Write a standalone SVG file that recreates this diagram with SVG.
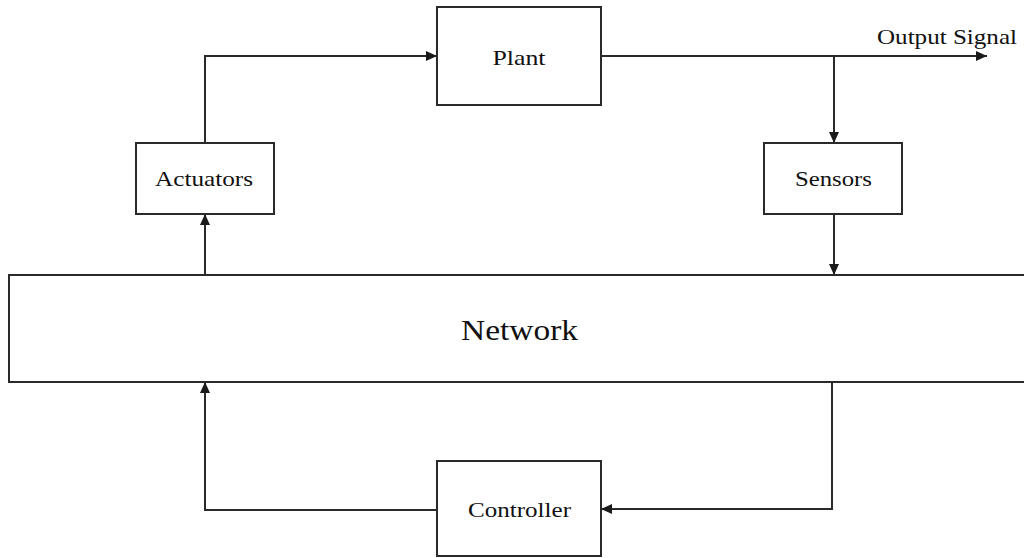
<svg xmlns="http://www.w3.org/2000/svg" width="1024" height="558" viewBox="0 0 1024 558">
  <defs>
    <marker id="arrow" markerUnits="userSpaceOnUse" markerWidth="12" markerHeight="10" refX="11" refY="5" orient="auto">
      <path d="M0,0 L11,5 L0,10 Z" fill="#1a1a1a"/>
    </marker>
    <style>
      .box { fill: #ffffff; stroke: #2a2a2a; stroke-width: 2; }
      .wire { fill: none; stroke: #2a2a2a; stroke-width: 2; marker-end: url(#arrow); }
      .label { font-family: "Liberation Serif", "Times New Roman", serif; font-size: 21px; fill: #111111; }
      .big { font-size: 30px; }
    </style>
  </defs>
  <rect width="1024" height="558" fill="#ffffff"/>

  <g id="connectors">
    <path class="wire" d="M205,143 V56 H437"/>
    <path class="wire" d="M601,56 H987"/>
    <path class="wire" d="M834,56 V143"/>
    <path class="wire" d="M834,214 V275"/>
    <path class="wire" d="M205,275 V214"/>
    <path class="wire" d="M832,382 V509 H601"/>
    <path class="wire" d="M437,510 H205 V382"/>
  </g>

  <g id="plant">
    <rect class="box" x="437" y="7" width="164" height="98"/>
    <text class="label" x="492.5" y="65" textLength="53" lengthAdjust="spacingAndGlyphs">Plant</text>
  </g>

  <g id="actuators">
    <rect class="box" x="136" y="143" width="138" height="71"/>
    <text class="label" x="155" y="186" textLength="98" lengthAdjust="spacingAndGlyphs">Actuators</text>
  </g>

  <g id="sensors">
    <rect class="box" x="764" y="143" width="138" height="71"/>
    <text class="label" x="795" y="186" textLength="77" lengthAdjust="spacingAndGlyphs">Sensors</text>
  </g>

  <g id="network">
    <rect class="box" x="9" y="275" width="1030" height="107"/>
    <text class="label big" x="461" y="340" textLength="117" lengthAdjust="spacingAndGlyphs">Network</text>
  </g>

  <g id="controller">
    <rect class="box" x="437" y="461" width="164" height="95"/>
    <text class="label" x="468" y="517" textLength="103" lengthAdjust="spacingAndGlyphs">Controller</text>
  </g>

  <g id="output-signal">
    <text class="label" x="877" y="44" textLength="140" lengthAdjust="spacingAndGlyphs">Output Signal</text>
  </g>
</svg>
